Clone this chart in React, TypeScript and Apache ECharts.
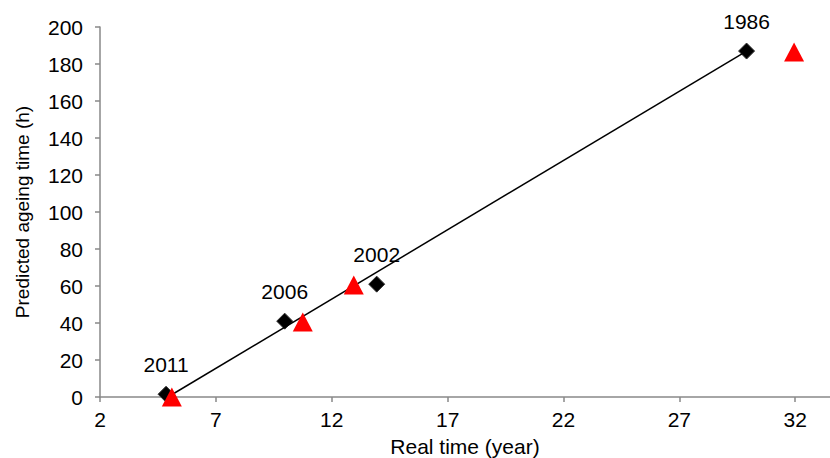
import React, { useEffect, useRef } from "react";
import * as echarts from "echarts";

const xTicks = [2, 7, 12, 17, 22, 27, 32];
const yearLabels = ["2011", "2006", "2002", "1986"];
const diamondX = [4.85, 9.97, 13.94, 29.9];
const diamondY = [1.5, 41, 61, 187];
const triangleX = [5.1, 10.75, 12.95, 31.95];
const triangleY = [0, 40.5, 60.5, 186.5];
const trendX = [4.93, 29.9];
const trendY = [0, 187];

export default function App() {
  const ref = useRef<HTMLDivElement>(null);
  useEffect(() => {
    const chart = echarts.init(ref.current!, null, { renderer: "svg" });
    const font = "Liberation Sans, Arial, sans-serif";
    const axisColor = "#898989";
    chart.setOption({
      animation: false,
      textStyle: { fontFamily: font },
      grid: { left: 100, right: 0, top: 27, bottom: 61, outerBoundsMode: "none", containLabel: false },
      xAxis: {
        type: "value",
        min: 2,
        max: 33.5,
        interval: 5,
        name: "Real time (year)",
        nameLocation: "middle",
        nameGap: 39,
        nameTextStyle: { fontFamily: font, fontSize: 21, color: "#000" },
        axisLine: { show: true, lineStyle: { color: axisColor, width: 1.5 } },
        axisTick: { show: true, length: 5, customValues: xTicks, lineStyle: { color: axisColor, width: 1.5 } },
        axisLabel: { customValues: xTicks, fontFamily: font, fontSize: 21, color: "#000", margin: 12 },
        splitLine: { show: false },
      },
      yAxis: {
        type: "value",
        min: 0,
        max: 200,
        interval: 20,
        name: "Predicted ageing time (h)",
        nameLocation: "middle",
        nameGap: 68,
        nameTextStyle: { fontFamily: font, fontSize: 19, color: "#000" },
        axisLine: { show: true, lineStyle: { color: axisColor, width: 1.5 } },
        axisTick: { show: true, length: 5, lineStyle: { color: axisColor, width: 1.5 } },
        axisLabel: { fontFamily: font, fontSize: 21, color: "#000", margin: 17 },
        splitLine: { show: false },
      },
      series: [
        {
          type: "line",
          data: trendX.map((x, i) => [x, trendY[i]]),
          symbol: "none",
          lineStyle: { color: "#000", width: 1.5 },
          z: 3,
        },
        {
          type: "scatter",
          data: diamondX.map((x, i) => ({ value: [x, diamondY[i]], name: yearLabels[i] })),
          symbol: "diamond",
          symbolSize: 16,
          itemStyle: { color: "#000", borderColor: "#333", borderWidth: 1, opacity: 1 },
          label: {
            show: true,
            position: "top",
            distance: 11,
            formatter: (p: any) => p.name,
            fontFamily: font,
            fontSize: 21,
            color: "#000",
          },
          z: 2,
        },
        {
          type: "scatter",
          data: triangleX.map((x, i) => [x, triangleY[i]]),
          symbol: "triangle",
          symbolSize: [20, 19],
          itemStyle: { color: "#FF0000", opacity: 1 },
          z: 4,
        },
      ],
    });
    return () => chart.dispose();
  }, []);
  return (
    <div
      ref={ref}
      style={{ position: "fixed", left: 0, top: 0, width: 830, height: 458, background: "#fff" }}
    />
  );
}
